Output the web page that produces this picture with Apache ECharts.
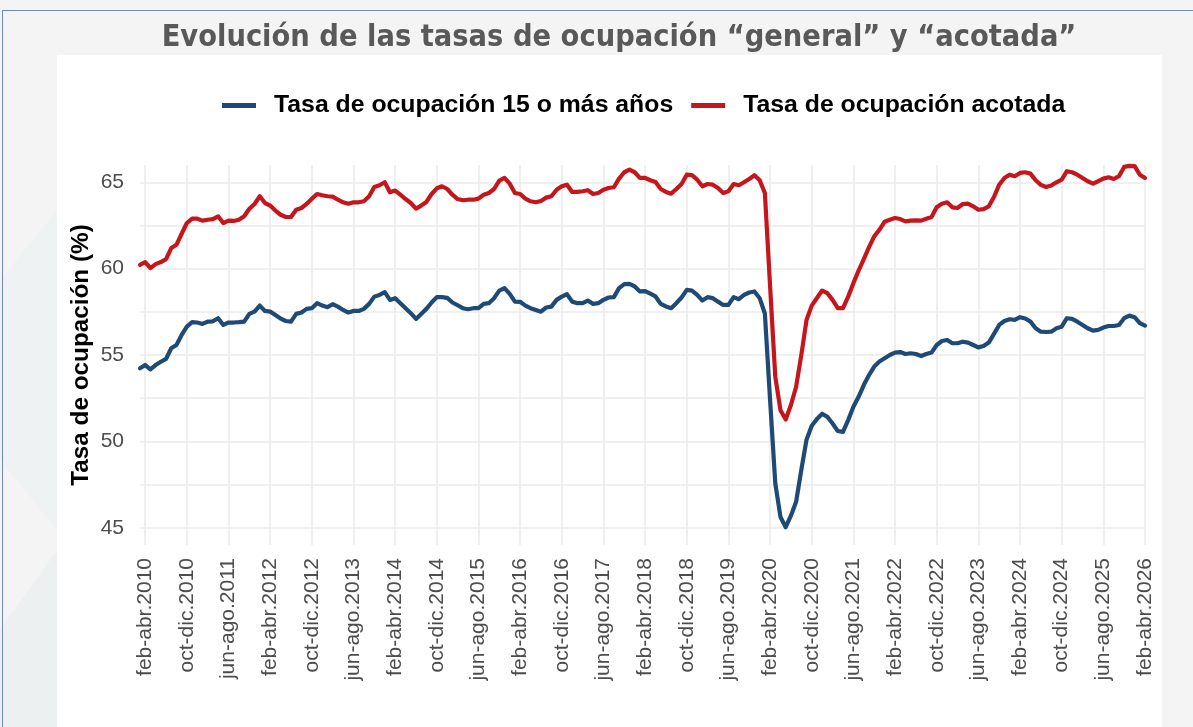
<!DOCTYPE html>
<html>
<head>
<meta charset="utf-8">
<script src="https://cdn.jsdelivr.net/npm/echarts@6/dist/echarts.min.js"></script>
<style>
  html, body { margin: 0; padding: 0; }
  body { width: 1193px; height: 727px; background: #f4f4f4; position: relative; overflow: hidden; }
  #deco1 { position: absolute; left: 0; top: 210px; width: 57px; height: 320px; background: #eef2f2; clip-path: polygon(0 22%, 100% 0, 100% 100%, 0 78%); }
  #deco2 { position: absolute; left: 0; top: 550px; width: 57px; height: 177px; background: #edf0f0; clip-path: polygon(0 45%, 100% 0, 100% 100%, 0 100%); }
  #frame { position: absolute; left: 2px; top: 10px; width: 1191px; height: 717px; border-top: 1px solid #6f8bbb; border-left: 1px solid #6f8bbb; box-sizing: border-box; }
  #panel { position: absolute; left: 57px; top: 55px; width: 1105px; height: 672px; background: #ffffff; }
  #chart { position: absolute; left: 0; top: 0; width: 1193px; height: 727px; }
</style>
</head>
<body>
<div id="deco1"></div>
<div id="deco2"></div>
<div id="frame"></div>
<div id="panel"></div>
<div id="chart"></div>
<script>
// ---- Data (rolling quarters, ene-mar 2010 .. feb-abr 2026) ----
const quarterNames = ['ene-mar','feb-abr','mar-may','abr-jun','may-jul','jun-ago','jul-sep','ago-oct','sep-nov','oct-dic','nov-ene','dic-feb'];
const startYear = 2010;

const tasaOcupacion15 = [
  54.23, 54.42, 54.17, 54.42, 54.61, 54.77, 55.39, 55.58, 56.16, 56.64,
  56.9, 56.88, 56.8, 56.93, 56.95, 57.13, 56.74, 56.88, 56.88, 56.9,
  56.93, 57.38, 57.51, 57.86, 57.55, 57.51, 57.32, 57.11, 56.97, 56.93,
  57.38, 57.46, 57.67, 57.71, 58.0, 57.86, 57.77, 57.94, 57.8, 57.61,
  57.46, 57.55, 57.55, 57.67, 57.96, 58.38, 58.48, 58.64, 58.19, 58.29,
  58.0, 57.71, 57.42, 57.09, 57.38, 57.67, 58.04, 58.35, 58.35, 58.31,
  58.04, 57.88, 57.71, 57.65, 57.71, 57.71, 57.96, 58.0, 58.29, 58.73,
  58.87, 58.54, 58.09, 58.08, 57.86, 57.71, 57.61, 57.51, 57.75, 57.8,
  58.19, 58.38, 58.52, 58.09, 58.0, 58.0, 58.15, 57.96, 58.0, 58.19,
  58.33, 58.35, 58.87, 59.1, 59.12, 58.97, 58.68, 58.7, 58.55, 58.39,
  57.96, 57.81, 57.71, 58.0, 58.33, 58.77, 58.73, 58.48, 58.15, 58.35,
  58.29, 58.09, 57.9, 57.9, 58.35, 58.23, 58.48, 58.62, 58.68, 58.29,
  57.4, 52.4, 47.57, 45.62, 45.03, 45.7, 46.5, 48.35, 50.1, 50.9,
  51.3, 51.6, 51.42, 51.03, 50.6, 50.55, 51.23, 52.0, 52.58, 53.26,
  53.84, 54.33, 54.62, 54.81, 55.0, 55.14, 55.17, 55.06, 55.1, 55.06,
  54.94, 55.06, 55.14, 55.58, 55.81, 55.87, 55.68, 55.68, 55.77, 55.72,
  55.58, 55.44, 55.52, 55.72, 56.22, 56.74, 56.97, 57.07, 57.03, 57.19,
  57.11, 56.93, 56.55, 56.35, 56.33, 56.35, 56.55, 56.64, 57.13, 57.09,
  56.93, 56.74, 56.55, 56.41, 56.45, 56.59, 56.68, 56.68, 56.74, 57.13,
  57.28, 57.19, 56.84, 56.7
];

const tasaOcupacionAcotada = [
  60.22, 60.38, 60.03, 60.26, 60.38, 60.55, 61.19, 61.38, 62.02, 62.64,
  62.89, 62.89, 62.78, 62.83, 62.87, 63.03, 62.64, 62.78, 62.76, 62.83,
  63.03, 63.47, 63.74, 64.19, 63.8, 63.65, 63.36, 63.12, 62.99, 62.99,
  63.41, 63.51, 63.75, 64.05, 64.32, 64.25, 64.19, 64.17, 63.99, 63.84,
  63.76, 63.84, 63.84, 63.9, 64.19, 64.73, 64.83, 65.0, 64.42, 64.52,
  64.28, 64.03, 63.8, 63.47, 63.65, 63.86, 64.32, 64.65, 64.77, 64.61,
  64.28, 64.03, 63.96, 63.99, 63.99, 64.05, 64.28, 64.38, 64.61, 65.1,
  65.25, 64.92, 64.38, 64.32, 64.05, 63.9, 63.84, 63.92, 64.11, 64.19,
  64.57, 64.77, 64.86, 64.44, 64.44, 64.48, 64.54, 64.32, 64.38, 64.57,
  64.67, 64.71, 65.21, 65.58, 65.73, 65.58, 65.25, 65.25, 65.12, 65.02,
  64.61, 64.44, 64.34, 64.61, 64.9, 65.44, 65.41, 65.15, 64.77, 64.9,
  64.86, 64.67, 64.38, 64.48, 64.9, 64.83, 65.0, 65.19, 65.41, 65.12,
  64.38, 59.0, 53.74, 51.8, 51.27, 52.1, 53.16, 55.0, 57.03, 57.86,
  58.3, 58.73, 58.58, 58.19, 57.71, 57.71, 58.38, 59.16, 59.89, 60.55,
  61.25, 61.87, 62.25, 62.72, 62.83, 62.93, 62.87, 62.74, 62.78, 62.79,
  62.78, 62.89, 62.99, 63.55, 63.76, 63.84, 63.55, 63.51, 63.74, 63.76,
  63.61, 63.41, 63.45, 63.61, 64.15, 64.86, 65.25, 65.44, 65.35, 65.54,
  65.58, 65.5, 65.12, 64.85, 64.73, 64.81, 65.0, 65.15, 65.64, 65.58,
  65.44, 65.25, 65.06, 64.92, 65.06, 65.21, 65.29, 65.19, 65.35, 65.89,
  65.95, 65.93, 65.44, 65.25
];

const yTickValues = [45, 50, 55, 60, 65];
const yGridValues = [45, 47.5, 50, 52.5, 55, 57.5, 60, 62.5, 65];
const seriesNames = ['Tasa de ocupación 15 o más años', 'Tasa de ocupación acotada'];
const titleText = 'Evolución de las tasas de ocupación “general” y “acotada”';

// category labels
const categories = tasaOcupacion15.map((_, i) => {
  const k = i % 12;
  const y = startYear + Math.floor(i / 12);
  return quarterNames[k] + '.' + y;
});
const showTick = (idx) => (idx - 1) >= 0 && (idx - 1) % 8 === 0;

// title font choice
function hasFont(name) {
  const c = document.createElement('canvas').getContext('2d');
  c.font = 'bold 40px monospace';
  const w1 = c.measureText(titleText).width;
  c.font = 'bold 40px "' + name + '", monospace';
  const w2 = c.measureText(titleText).width;
  return Math.abs(w1 - w2) > 0.5;
}
let titleFamily = 'Liberation Sans';
for (const f of ['Liberation Sans Narrow', 'Arial Narrow', 'DejaVu Sans Condensed']) {
  if (hasFont(f)) { titleFamily = f; break; }
}
const ctx = document.createElement('canvas').getContext('2d');
ctx.font = 'bold 40px "' + titleFamily + '"';
let titleSize = Math.min(34, 40 * 915 / ctx.measureText(titleText).width);

const chart = echarts.init(document.getElementById('chart'), null, { renderer: 'canvas' });
const font = 'Liberation Sans, Arial, Helvetica, sans-serif';
chart.setOption({
  backgroundColor: 'transparent',
  animation: false,
  title: {
    text: titleText,
    left: 614, top: 18, textAlign: 'center',
    textStyle: { fontFamily: titleFamily, fontWeight: 'bold', fontSize: titleSize, color: '#595959' }
  },
  legend: {
    data: seriesNames,
    left: 217, top: 87,
    icon: 'rect', itemWidth: 34, itemHeight: 5, itemGap: 18,
    textStyle: { fontFamily: font, fontWeight: 'bold', fontSize: 24.8, color: '#000', padding: [0, 0, 0, 13], lineHeight: 27 }
  },
  grid: { left: 140, right: 48, top: 165, bottom: 182, containLabel: false },
  xAxis: {
    type: 'category', data: categories, boundaryGap: false,
    axisLine: { show: false }, axisTick: { show: false },
    axisLabel: { interval: (i) => showTick(i), rotate: 90, margin: 13, fontFamily: font, fontSize: 21, color: '#4d4d4d' },
    splitLine: { show: true, interval: (i) => showTick(i), lineStyle: { color: '#ebebeb', width: 1.6 } }
  },
  yAxis: {
    type: 'value', min: 44, max: 66, interval: 1,
    name: 'Tasa de ocupación (%)', nameLocation: 'middle', nameGap: 47, nameRotate: 90,
    nameMoveOverlap: false,
    nameTextStyle: { fontFamily: font, fontWeight: 'bold', fontSize: 24.3, color: '#000' },
    axisLine: { show: false }, axisTick: { show: false },
    axisLabel: { margin: 16, fontFamily: font, fontSize: 21, color: '#4d4d4d',
      formatter: (v) => yTickValues.includes(v) ? String(v) : '' },
    splitLine: { show: false }
  },
  series: [
    {
      name: '__grid', type: 'line', data: [], silent: true, z: 1,
      markLine: {
        silent: true, symbol: ['none', 'none'], z: 1, animation: false,
        label: { show: false },
        lineStyle: { color: '#ebebeb', width: 1.6, type: 'solid' },
        emphasis: { disabled: true },
        data: yGridValues.map(v => ({ yAxis: v }))
      }
    },
    {
      name: seriesNames[0], type: 'line', data: tasaOcupacion15, z: 3,
      showSymbol: false, smooth: false,
      lineStyle: { color: '#1f4a75', width: 4.2, join: 'round', cap: 'round' },
      itemStyle: { color: '#1f4a75' }
    },
    {
      name: seriesNames[1], type: 'line', data: tasaOcupacionAcotada, z: 3,
      showSymbol: false, smooth: false,
      lineStyle: { color: '#c4161c', width: 4.2, join: 'round', cap: 'round' },
      itemStyle: { color: '#c4161c' }
    }
  ]
});
</script>
</body>
</html>
